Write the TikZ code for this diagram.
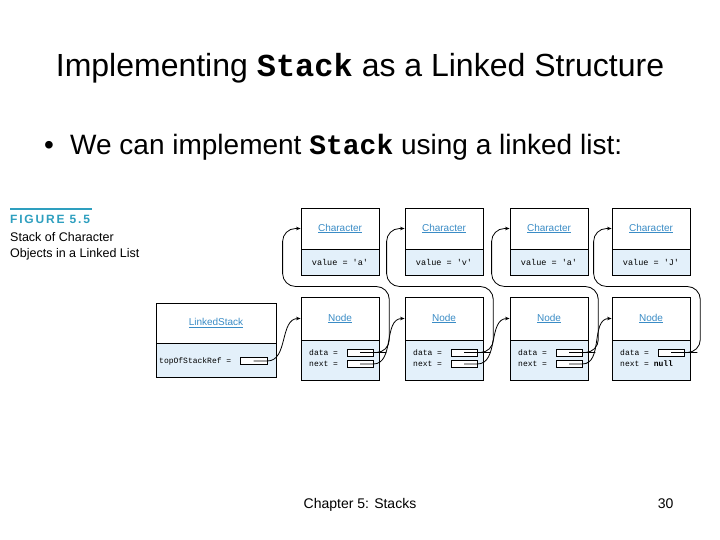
\documentclass[tikz,border=0pt]{standalone}
\usepackage{fontspec}
\setmainfont{Liberation Sans}
\setmonofont{Liberation Mono}
\usetikzlibrary{positioning,arrows.meta,calc}

\definecolor{figteal}{HTML}{2E9FBF}
\definecolor{fieldblue}{HTML}{E3F0FA}
\definecolor{labelblue}{HTML}{3A8CC6}
\newcommand{\clsname}[1]{\textcolor{labelblue}{\underline{#1}}}

\tikzset{
  classhead/.style={draw, fill=white, line width=0.8pt, minimum width=78pt,
    inner sep=0pt, font=\fontsize{10}{11}\selectfont},
  classbody/.style={draw, fill=fieldblue, line width=0.8pt, minimum width=78pt,
    inner sep=0pt, font=\fontsize{8.5}{10}\ttfamily},
  slot/.style={draw, fill=white, line width=0.6pt, minimum width=26pt,
    minimum height=7pt, inner sep=0pt},
  slottext/.style={anchor=west, inner sep=0pt, font=\fontsize{8}{9}\ttfamily},
  ptr/.style={line width=0.8pt, -{Stealth[length=4.5pt,width=3.5pt]}},
}

\begin{document}
\begin{tikzpicture}[x=1pt, y=-1pt]
\useasboundingbox (0,0) rectangle (720,540);
\fill[white] (0,0) rectangle (720,540);

\node[anchor=base] (title) at (360,77)
  {\fontsize{32}{38}\selectfont Implementing \texttt{\textbf{Stack}} as a Linked Structure};
\node[anchor=base] (dot) at (49,155) {\fontsize{28}{34}\selectfont\textbullet};
\node[anchor=base west, inner sep=0pt] (bullet) at (70,155)
  {\fontsize{28}{34}\selectfont We can implement \texttt{\textbf{Stack}} using a linked list:};

% figure caption
\draw[figteal, line width=2pt] (10,209) -- (92,209);
\node[anchor=west, inner sep=0pt, text=figteal] (fig) at (10,219)
  {\fontsize{12}{14}\selectfont\bfseries\addfontfeature{LetterSpace=15}FIGURE 5.5};
\node[anchor=north west, inner sep=0pt, align=left, font=\fontsize{12.5}{16.5}\selectfont] (caption) at (10,232)
  {Stack of Character\\Objects in a Linked List};

% the stack object
\node[classhead, minimum width=120pt, minimum height=40pt] (lsh) at (216,323) {\clsname{LinkedStack}};
\node[classbody, minimum width=120pt, minimum height=34pt, below=0pt of lsh] (lsb) {};
\node[slottext] at (159,361) {topOfStackRef =};
\node[slot, minimum width=27pt] (ref) at (253.5,361) {};

% characters and nodes
\foreach \i/\x/\v in {1/340/a, 2/444/v, 3/549/a, 4/651/J} {
  \node[classhead, minimum height=41pt] (chh\i) at (\x,228.5) {\clsname{Character}};
  \node[classbody, minimum height=26pt, below=0pt of chh\i] (chb\i) {value = '\v'};
  \node[classhead, minimum height=43pt] (ndh\i) at (\x,318.5) {\clsname{Node}};
  \node[classbody, minimum height=40pt, below=0pt of ndh\i] (ndb\i) {};
  \node[slottext] at (\x-31,352.5) {data =};
  \node[slot] (data\i) at (\x+20,352.5) {};
  \ifnum\i<4
    \node[slottext] at (\x-31,364) {next =};
    \node[slot] (next\i) at (\x+20,364) {};
  \else
    \node[slottext] at (\x-31,364) {next = \textbf{null}};
  \fi
}

% pointers
\draw[ptr] (ref.center) -- (ref.east) to[out=0, in=180] (ndh1.west);
\foreach \i/\j in {1/2, 2/3, 3/4}
  \draw[ptr] (next\i.center) -- (next\i.east) to[out=0, in=180] (ndh\j.west);
\foreach \i in {1,...,4}
  \draw[ptr, rounded corners=13pt] (data\i.center) -- (data\i.east) -- ++(16,0)
    |- ($(chh\i.west)+(-18,58)$) |- (chh\i.west);

\node[anchor=base] (footer) at (360,508) {\fontsize{14}{16}\selectfont Chapter 5: Stacks};
\node[anchor=base east] (page) at (677,508) {\fontsize{14}{16}\selectfont 30};
\end{tikzpicture}
\end{document}
